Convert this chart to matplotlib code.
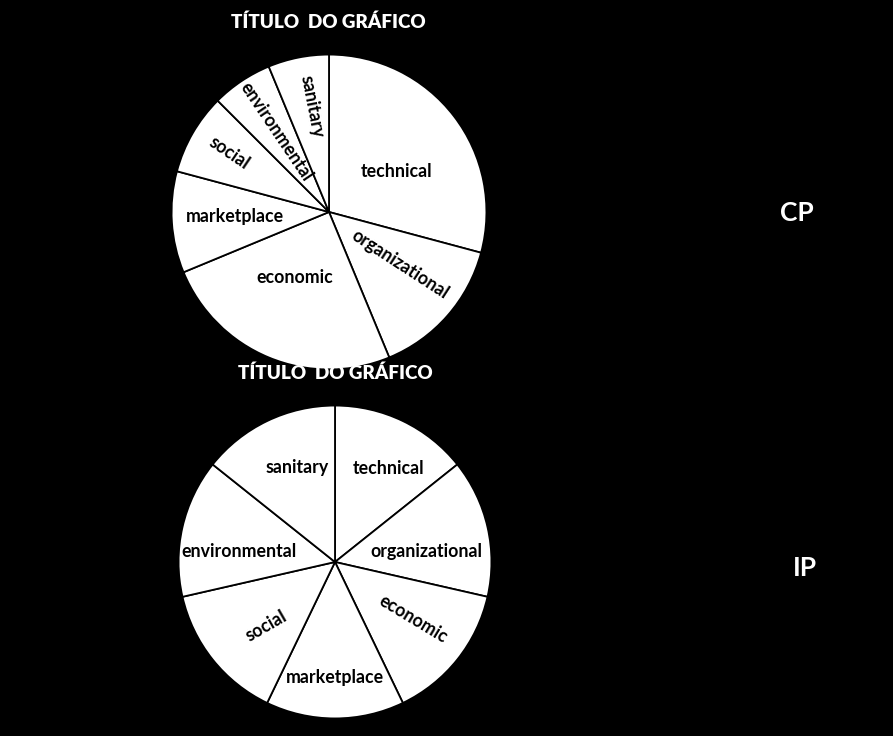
import numpy as np
import matplotlib
matplotlib.use("Agg")
import matplotlib.pyplot as plt

plt.rcParams['font.family'] = ['Lato', 'DejaVu Sans']

# data (CP counts, IP equal slices)
categories = ['technical', 'organizational', 'economic', 'marketplace',
              'social', 'environmental', 'sanitary']
cp_values = [14, 7, 12, 5, 4, 3, 3]
ip_values = [1, 1, 1, 1, 1, 1, 1]
title_text = 'TÍTULO  DO GRÁFICO'
row_names = ['CP', 'IP']

# label layout: (radius fraction, angle offset from slice middle, rotation)
cp_lab = [(0.50, -6.8, 0), (0.56, 4.4, -33), (0.47, -5.4, 0), (0.60, -1.3, 0),
          (0.74, -0.7, -34), (0.61, -0.5, -56), (0.68, -1.8, -79)]
ip_lab = [(0.69, -4.3, 0), (0.59, -6.1, 0), (0.62, 2.6, -31), (0.74, 0, 0),
          (0.60, 4.4, 30), (0.62, 6.9, 0), (0.65, -3.9, 0)]

W, H = 893, 736
fig = plt.figure(figsize=(W/100, H/100), dpi=100, facecolor='black')


def pie_axes(cx, cy, r):
    ax = fig.add_axes([(cx-r)/W, (H-cy-r)/H, 2*r/W, 2*r/H])
    ax.set_facecolor('black')
    return ax


def draw_pie(ax, vals, lab):
    wedges, _ = ax.pie(vals, startangle=90, counterclock=False, radius=1,
                       colors=['white']*len(vals),
                       wedgeprops=dict(edgecolor='black', linewidth=1.3))
    ax.set_xlim(-1.01, 1.01)
    ax.set_ylim(-1.01, 1.01)
    ax.axis('off')
    for w, name, (d, off, rot) in zip(wedges, categories, lab):
        a = np.deg2rad((w.theta1 + w.theta2)/2 + off)
        ax.text(d*np.cos(a), d*np.sin(a), name, ha='center', va='center',
                rotation=rot, rotation_mode='anchor', fontsize=12.8,
                fontweight='bold', color='black')


ax1 = pie_axes(329, 212, 159)
draw_pie(ax1, cp_values, cp_lab)
ax2 = pie_axes(335, 562, 158)
draw_pie(ax2, ip_values, ip_lab)

fig.text(328/W, 1-22/H, title_text, color='white', fontsize=13.6,
         fontweight='heavy', ha='center', va='center')
fig.text(335/W, 1-373/H, title_text, color='white', fontsize=13.6,
         fontweight='heavy', ha='center', va='center')
fig.text(797/W, 1-213/H, row_names[0], color='white', fontsize=19,
         fontweight='bold', ha='center', va='center')
fig.text(805/W, 1-568/H, row_names[1], color='white', fontsize=19,
         fontweight='bold', ha='center', va='center')

fig.savefig('out.png', dpi=100, facecolor='black')
